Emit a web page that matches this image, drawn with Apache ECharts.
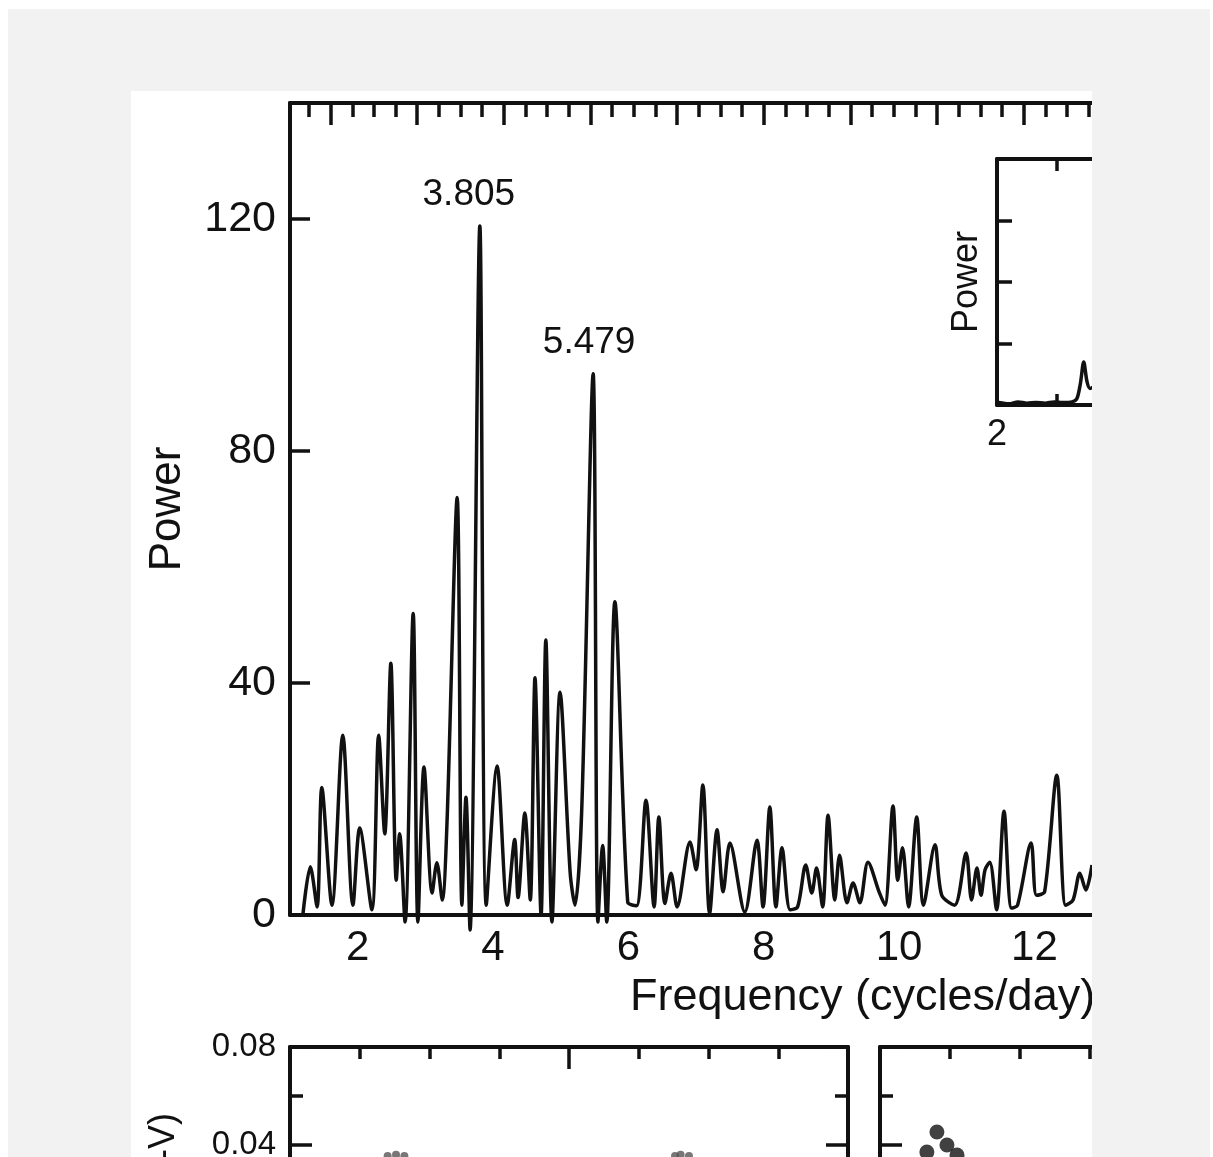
<!DOCTYPE html>
<html>
<head>
<meta charset="utf-8">
<title>Periodogram</title>
<script src="https://cdn.jsdelivr.net/npm/echarts@6.0.0/dist/echarts.min.js"></script>
<style>
  html, body { margin: 0; padding: 0; background: #fff; }
  #page { position: relative; width: 1213px; height: 1157px; overflow: hidden; }
  #frame { position: absolute; left: 8px; top: 9px; width: 1202px; height: 1148px; background: #f2f2f2; }
  #paper { position: absolute; left: 131px; top: 91px; width: 961px; height: 1066px; background: #fff; }
  #chart { position: absolute; left: 0; top: 0; width: 1092px; height: 1157px; }
</style>
</head>
<body>
<div id="page">
  <div id="frame"></div>
  <div id="paper"></div>
  <div id="chart"></div>
</div>
<script>
// periodogram
const freq = [1.19, 1.30, 1.40, 1.47, 1.62, 1.78, 1.93, 2.03, 2.21, 2.31,
    2.40, 2.49, 2.57, 2.62, 2.70, 2.82, 2.89, 2.98, 3.10, 3.17,
    3.25, 3.32, 3.47, 3.54, 3.60, 3.66, 3.805, 3.90, 4.06, 4.21,
    4.32, 4.37, 4.47, 4.55, 4.62, 4.71, 4.78, 4.87, 4.99, 5.14,
    5.21, 5.31, 5.479, 5.55, 5.62, 5.68, 5.80, 5.99, 6.12, 6.26, 6.38,
    6.45, 6.54, 6.63, 6.72, 6.91, 7.00, 7.10, 7.20, 7.31, 7.40,
    7.50, 7.72, 7.90, 7.99, 8.09, 8.18, 8.27, 8.39, 8.50, 8.62,
    8.71, 8.78, 8.87, 8.95, 9.05, 9.12, 9.23, 9.32, 9.42, 9.54,
    9.71, 9.79, 9.91, 9.98, 10.05, 10.14, 10.26, 10.36, 10.53, 10.63,
    10.82, 10.99, 11.07, 11.15, 11.21, 11.27, 11.34, 11.44, 11.55, 11.66,
    11.75, 11.95, 12.03, 12.15, 12.33, 12.46, 12.57, 12.67, 12.76, 12.85];
const power = [0, 8.3, 1.4, 22, 1.7, 31, 1.7, 15, 0.9, 31,
    14, 43.4, 6, 14, -1.2, 52, -1.2, 25.5, 3.8, 9,
    2.6, 16, 72, 1.7, 20.3, -2.6, 118.8, 1.7, 25.7, 1.7,
    13, 3, 17.6, 2.6, 40.9, 0, 47.4, -1.2, 38.4, 7.2,
    1.7, 18, 93.3, -1.2, 12, -1.2, 54, 2.2, 1.6, 19.8, 1.4,
    16.9, 2, 7.2, 1.4, 12.6, 7.8, 22.4, 0.3, 14.7, 4,
    12.4, 0.5, 12.9, 1.4, 18.6, 1.4, 11.6, 0.9, 1.4, 8.6,
    3.8, 8.1, 1.4, 17.2, 2.6, 10.3, 2.1, 5.5, 2.1, 9.1,
    3.8, 1.7, 18.8, 6, 11.6, 1.4, 16.9, 1.7, 12.1, 3.4,
    1.7, 10.7, 2.6, 8.1, 3.4, 7.8, 9.1, 0.9, 17.9, 1.2,
    1.7, 12.4, 3.4, 4, 24.1, 1.7, 2.6, 7.2, 4.3, 8.6];

const peakFreqs = [3.805, 5.479];
const peakPowers = [118.8, 93.3];

const xTickValues = [2, 4, 6, 8, 10, 12];
const yTickValues = [0, 40, 80, 120];
const topMajorTicks = [1.6, 2.88, 4.16, 5.44, 6.72, 8.0, 9.28, 10.56, 11.84];
const topMinorTicks = [1.28, 1.92, 2.24, 2.56, 3.2, 3.52, 3.84, 4.48, 4.8, 5.12,
    5.76, 6.08, 6.4, 7.04, 7.36, 7.68, 8.32, 8.64, 8.96, 9.6, 9.92, 10.24,
    10.88, 11.2, 11.52, 12.16, 12.48, 12.8];

// inset (only its left edge is in the crop)
const insetFreq = [2.03, 2.2, 2.35, 2.5, 2.65, 2.8, 2.95, 3.1, 3.25, 3.33, 3.39, 3.445, 3.5, 3.55, 3.62];
const insetPower = [0.04, 0.02, 0.05, 0.03, 0.04, 0.03, 0.05, 0.04, 0.05, 0.1, 0.35, 0.7, 0.38, 0.27, 0.3];
const insetXLabels = [2, 4, 6];
const insetTicks = [3, 4, 5, 6];

// lower panels, cut by the crop
const phaseA = [0.16, 0.175, 0.19, 0.205, 0.22, 0.675, 0.69, 0.70, 0.715, 0.73];
const colourA = [0.0335, 0.0355, 0.036, 0.0355, 0.0335, 0.0335, 0.0355, 0.036, 0.0355, 0.0335];
const phaseB = [0.102, 0.120, 0.084, 0.138];
const colourB = [0.0453, 0.040, 0.0371, 0.0359];

const FONT = '"Liberation Sans", Arial, Helvetica, sans-serif';
const INK = '#111';
const peakLabelShift = [-11, -4];

const zip = (xs, ys) => xs.map((x, i) => [x, ys[i]]);

const line = { show: true, onZero: false, lineStyle: { color: INK, width: 4 } };
const noLine = { show: false, onZero: false };
const tick = (len, values) => {
    let t = { show: true, inside: true, length: len, lineStyle: { color: INK, width: 3.5 } };
    if (values) t.customValues = values;
    return t;
};
const minor = (n, len) => ({ show: true, splitNumber: n, length: len, lineStyle: { color: INK, width: 3.5 } });
const noLabel = { show: false };
const noSplit = { show: false };

let chart = echarts.init(document.getElementById('chart'), null, { renderer: 'canvas' });

chart.setOption({
    animation: false,
    textStyle: { fontFamily: FONT, color: INK },
    grid: [
        { left: 290, top: 103, width: 802, height: 812, outerBoundsMode: 'none' },
        { left: 290, top: 103, width: 802, height: 812, outerBoundsMode: 'none' },
        { left: 997, top: 159, width: 300, height: 246, show: true, backgroundColor: '#fff', borderWidth: 0, outerBoundsMode: 'none' },
        { left: 290, top: 1047, width: 558, height: 392, outerBoundsMode: 'none' },
        { left: 880, top: 1047, width: 558, height: 392, outerBoundsMode: 'none' }
    ],
    xAxis: [
        {
            type: 'value', gridIndex: 0, min: 1, max: 12.85,
            axisLine: line, axisTick: { show: false }, splitLine: noSplit,
            axisLabel: { customValues: xTickValues, fontSize: 42, margin: 12, color: INK, fontFamily: FONT }
        },
        {
            type: 'value', gridIndex: 0, position: 'top', min: 1, max: 12.85,
            axisLine: line, axisTick: tick(14, topMinorTicks), axisLabel: noLabel, splitLine: noSplit
        },
        {
            type: 'value', gridIndex: 1, position: 'top', min: 1, max: 12.85,
            axisLine: noLine, axisTick: tick(22, topMajorTicks), axisLabel: noLabel, splitLine: noSplit
        },
        {
            type: 'value', gridIndex: 2, min: 2, max: 7,
            axisLine: line, axisTick: tick(11, insetTicks), splitLine: noSplit,
            axisLabel: { customValues: insetXLabels, fontSize: 36, margin: 12, color: INK, fontFamily: FONT }
        },
        {
            type: 'value', gridIndex: 2, position: 'top', min: 2, max: 7,
            axisLine: line, axisTick: tick(12, insetTicks), axisLabel: noLabel, splitLine: noSplit
        },
        {
            type: 'value', gridIndex: 3, position: 'top', min: 0, max: 1, interval: 0.5,
            axisLine: line, axisTick: tick(22), minorTick: minor(4, 12), axisLabel: noLabel, splitLine: noSplit
        },
        {
            type: 'value', gridIndex: 4, position: 'top', min: 0, max: 1, interval: 0.5,
            axisLine: line, axisTick: tick(22), minorTick: minor(4, 12), axisLabel: noLabel, splitLine: noSplit
        }
    ],
    yAxis: [
        {
            type: 'value', gridIndex: 0, min: 0, max: 140,
            axisLine: line, axisTick: tick(20, yTickValues), splitLine: noSplit,
            axisLabel: { customValues: yTickValues, fontSize: 43, margin: 14, color: INK, fontFamily: FONT },
            name: 'Power', nameLocation: 'middle', nameGap: 100,
            nameTextStyle: { fontSize: 44, color: INK, fontFamily: FONT }
        },
        { type: 'value', gridIndex: 1, min: 0, max: 140, show: false },
        {
            type: 'value', gridIndex: 2, min: 0, max: 4, interval: 1,
            axisLine: line, axisTick: tick(15), axisLabel: noLabel, splitLine: noSplit,
            name: 'Power', nameLocation: 'middle', nameGap: 12,
            nameTextStyle: { fontSize: 36, color: INK, fontFamily: FONT }
        },
        {
            type: 'value', gridIndex: 3, min: -0.08, max: 0.08, interval: 0.04,
            axisLine: line, axisTick: tick(22), minorTick: minor(2, 13), splitLine: noSplit,
            axisLabel: { fontSize: 33, margin: 14, color: INK, fontFamily: FONT, formatter: v => v.toFixed(2) }
        },
        {
            type: 'value', gridIndex: 3, position: 'right', min: -0.08, max: 0.08, interval: 0.04,
            axisLine: line, axisTick: tick(22), minorTick: minor(2, 13), axisLabel: noLabel, splitLine: noSplit
        },
        {
            type: 'value', gridIndex: 4, min: -0.08, max: 0.08, interval: 0.04,
            axisLine: line, axisTick: tick(22), minorTick: minor(2, 13), axisLabel: noLabel, splitLine: noSplit
        }
    ],
    series: [
        {
            type: 'line', xAxisIndex: 0, yAxisIndex: 0,
            data: zip(freq, power),
            smooth: 0.3, showSymbol: false, clip: false, silent: true,
            lineStyle: { color: INK, width: 3.5 }
        },
        {
            type: 'scatter', xAxisIndex: 0, yAxisIndex: 0,
            symbolSize: 2, silent: true,
            itemStyle: { color: INK, opacity: 1 },
            label: {
                show: true, position: 'top', distance: 12,
                fontSize: 37, color: INK, fontFamily: FONT, opacity: 1,
                formatter: p => p.value[0].toFixed(3)
            },
            data: peakFreqs.map((f, i) => ({ value: [f, peakPowers[i]], label: { offset: [peakLabelShift[i], 0] } }))
        },
        {
            type: 'line', xAxisIndex: 3, yAxisIndex: 2,
            data: zip(insetFreq, insetPower),
            smooth: 0.3, showSymbol: false, silent: true,
            lineStyle: { color: INK, width: 3.5 }
        },
        {
            type: 'scatter', xAxisIndex: 5, yAxisIndex: 3,
            data: zip(phaseA, colourA), symbolSize: 8, silent: true,
            itemStyle: { color: '#555' }
        },
        {
            type: 'scatter', xAxisIndex: 6, yAxisIndex: 5,
            data: zip(phaseB, colourB), symbolSize: 15, silent: true,
            itemStyle: { color: INK }
        }
    ],
    graphic: [
        {
            type: 'text', left: 630, top: 975,
            style: { text: 'Frequency (cycles/day)', font: '45px ' + FONT, fill: INK }
        },
        {
            type: 'text', x: 164, y: 1113, rotation: Math.PI / 2,
            style: { text: 'Δ(B-V)', font: '36px ' + FONT, fill: INK, align: 'right', verticalAlign: 'middle' }
        }
    ]
});
</script>
</body>
</html>
